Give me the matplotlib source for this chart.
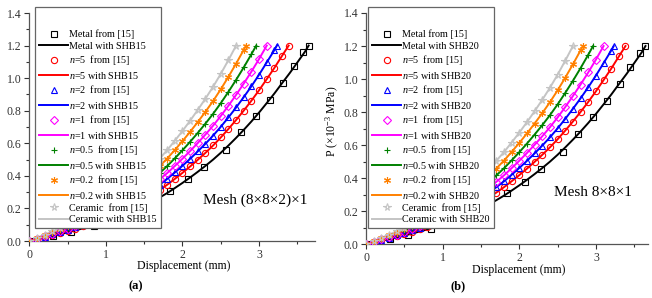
import matplotlib
matplotlib.use("Agg")
import matplotlib.pyplot as plt
from matplotlib.ticker import MultipleLocator, FormatStrFormatter

plt.rcParams['font.family'] = ['Liberation Serif', 'DejaVu Serif']
plt.rcParams['mathtext.fontset'] = 'custom'
plt.rcParams['mathtext.rm'] = 'Liberation Serif'
plt.rcParams['mathtext.it'] = 'Liberation Serif:italic'

# ---------------- data (displacement in mm, P in 1e-3 MPa) ----------------
metal_pts_d = [0, 0.31, 0.545, 0.85, 1.1, 1.35, 1.6, 1.84, 2.07, 2.28, 2.567, 2.77, 2.96, 3.146, 3.316, 3.45, 3.57, 3.647]
metal_pts_p = [0, 0.031, 0.057, 0.094, 0.131, 0.176, 0.24, 0.308, 0.38, 0.454, 0.56, 0.667, 0.77, 0.866, 0.969, 1.076, 1.158, 1.2]

metal_line_d = [0, 0.1, 0.2, 0.3, 0.4, 0.5, 0.6, 0.7, 0.8, 0.9, 1.0, 1.1, 1.2, 1.3, 1.4, 1.5, 1.6, 1.7, 1.8, 1.9,
                2.0, 2.1, 2.2, 2.3, 2.4, 2.5, 2.6, 2.7, 2.8, 2.9, 3.0, 3.1, 3.2, 3.3, 3.4, 3.5, 3.6, 3.647]
metal_line_p = [0, 0.0105, 0.021, 0.031, 0.0415, 0.0525, 0.065, 0.0775, 0.09, 0.1033, 0.12, 0.1367, 0.154, 0.174,
                0.194, 0.2167, 0.2405, 0.2667, 0.2944, 0.325, 0.3567, 0.39, 0.425, 0.4615, 0.5, 0.5417, 0.5864,
                0.6333, 0.6825, 0.7342, 0.7889, 0.847, 0.906, 0.969, 1.031, 1.0967, 1.163, 1.2]

n5_d = [0, 0.1, 0.2, 0.3, 0.4, 0.5, 0.6, 0.7, 0.8, 0.9, 1.0, 1.1, 1.2, 1.3, 1.4, 1.5, 1.6, 1.7, 1.8, 1.9,
        2.0, 2.1, 2.2, 2.3, 2.4, 2.5, 2.6, 2.7, 2.8, 2.9, 3.0, 3.1, 3.2, 3.3, 3.386]
n5_p = [0, 0.0123, 0.0246, 0.0364, 0.0487, 0.0616, 0.0763, 0.0910, 0.1056, 0.1212, 0.1408, 0.1604, 0.1807,
        0.2042, 0.2277, 0.2543, 0.2823, 0.3130, 0.3455, 0.3814, 0.4186, 0.4577, 0.4988, 0.5416, 0.5868,
        0.6357, 0.6882, 0.7432, 0.8010, 0.8617, 0.9259, 0.9940, 1.0633, 1.1372, 1.2]

n2_d = [0, 0.1, 0.2, 0.3, 0.4, 0.5, 0.6, 0.7, 0.8, 0.9, 1.0, 1.1, 1.2, 1.3, 1.4, 1.5, 1.6, 1.7, 1.8, 1.9,
        2.0, 2.1, 2.2, 2.3, 2.4, 2.5, 2.6, 2.7, 2.8, 2.9, 3.0, 3.1, 3.2, 3.233]
n2_p = [0, 0.0136, 0.0272, 0.0401, 0.0537, 0.0680, 0.0841, 0.1003, 0.1165, 0.1337, 0.1553, 0.1770, 0.1994,
        0.2252, 0.2511, 0.2805, 0.3113, 0.3452, 0.3811, 0.4207, 0.4618, 0.5049, 0.5502, 0.5974, 0.6473,
        0.7012, 0.7591, 0.8198, 0.8835, 0.9504, 1.0212, 1.0964, 1.1728, 1.2]

n1_d = [0, 0.1, 0.2, 0.3, 0.4, 0.5, 0.6, 0.7, 0.8, 0.9, 1.0, 1.1, 1.2, 1.3, 1.4, 1.5, 1.6, 1.7, 1.8, 1.9,
        2.0, 2.1, 2.2, 2.3, 2.4, 2.5, 2.6, 2.7, 2.8, 2.9, 3.0, 3.1]
n1_p = [0, 0.0149, 0.0298, 0.0439, 0.0588, 0.0744, 0.0921, 0.1098, 0.1275, 0.1464, 0.1700, 0.1937, 0.2182,
        0.2465, 0.2749, 0.3070, 0.3407, 0.3779, 0.4171, 0.4605, 0.5054, 0.5526, 0.6021, 0.6539, 0.7084,
        0.7675, 0.8308, 0.8973, 0.9670, 1.0402, 1.1177, 1.2]

n05_d = [0, 0.1, 0.2, 0.3, 0.4, 0.5, 0.6, 0.7, 0.8, 0.9, 1.0, 1.1, 1.2, 1.3, 1.4, 1.5, 1.6, 1.7, 1.8, 1.9,
         2.0, 2.1, 2.2, 2.3, 2.4, 2.5, 2.6, 2.7, 2.8, 2.9, 2.963]
n05_p = [0, 0.0164, 0.0328, 0.0484, 0.0648, 0.0820, 0.1016, 0.1211, 0.1406, 0.1614, 0.1875, 0.2136, 0.2406,
         0.2719, 0.3031, 0.3386, 0.3758, 0.4167, 0.4600, 0.5078, 0.5573, 0.6094, 0.6641, 0.7211, 0.7813,
         0.8464, 0.9163, 0.9895, 1.0664, 1.1472, 1.2]

n02_d = [0, 0.1, 0.2, 0.3, 0.4, 0.5, 0.6, 0.7, 0.8, 0.9, 1.0, 1.1, 1.2, 1.3, 1.4, 1.5, 1.6, 1.7, 1.8, 1.9,
         2.0, 2.1, 2.2, 2.3, 2.4, 2.5, 2.6, 2.7, 2.8, 2.83]
n02_p = [0, 0.0181, 0.0361, 0.0533, 0.0714, 0.0903, 0.1118, 0.1333, 0.1548, 0.1777, 0.2064, 0.2351, 0.2649,
         0.2993, 0.3337, 0.3727, 0.4137, 0.4587, 0.5064, 0.5590, 0.6135, 0.6708, 0.7310, 0.7938, 0.8600,
         0.9317, 1.0086, 1.0893, 1.1739, 1.2]

cer_d = [0, 0.1, 0.2, 0.3, 0.4, 0.5, 0.6, 0.7, 0.8, 0.9, 1.0, 1.1, 1.2, 1.3, 1.4, 1.5, 1.6, 1.7, 1.8, 1.9,
         2.0, 2.1, 2.2, 2.3, 2.4, 2.5, 2.6, 2.7]
cer_p = [0, 0.0199, 0.0398, 0.0587, 0.0786, 0.0995, 0.1232, 0.1469, 0.1706, 0.1958, 0.2274, 0.2590, 0.2918,
         0.3297, 0.3676, 0.4106, 0.4557, 0.5054, 0.5579, 0.6159, 0.6759, 0.7391, 0.8054, 0.8745, 0.9475,
         1.0265, 1.1112, 1.2]

series_names = ['Metal', '$n$=5 ', '$n$=2 ', '$n$=1 ', '$n$=0.5 ', '$n$=0.2 ', 'Ceramic ']
panel_elements = ['SHB15', 'SHB20']
panel_titles = ['(a)', '(b)']
mesh_labels = ['Mesh (8×8×2)×1', 'Mesh 8×8×1']

colors = ['black', '#ff0000', '#0000ff', '#ff00ff', '#008000', '#ff8000', '#c4c4c4']
markers = ['s', 'o', '^', 'D', '+', (6, 2, 0), '*']
msizes = [4, 4.5, 4.5, 4, 5, 5, 5.5]

fgm = [(n5_d, n5_p), (n2_d, n2_p), (n1_d, n1_p), (n05_d, n05_p), (n02_d, n02_p), (cer_d, cer_p)]

fig = plt.figure(figsize=(6.52, 2.98), dpi=100)
ax_rects = [(29.3 / 652, 57 / 298, 285.7 / 652, 228 / 298),
            (366 / 652, 53.7 / 298, 282 / 652, 231.3 / 298)]
xmaxs = [3.73, 3.68]
legend_anchor = [(35 / 652, 1 - 7 / 298), (368 / 652, 1 - 7 / 298)]
mesh_pos = [(255 / 652, 1 - 200 / 298), (593 / 652, 1 - 192 / 298)]
title_pos = [(136 / 652, 1 - 286 / 298), (458 / 652, 1 - 286 / 298)]

for k in range(2):
    ax = fig.add_axes(ax_rects[k])
    handles = []
    labels = []
    all_sets = [((metal_pts_d, metal_pts_p), (metal_line_d, metal_line_p))] + [((d, p), (d, p)) for d, p in fgm]
    for i, ((md, mp), (ld, lp)) in enumerate(all_sets):
        hollow = markers[i] not in ('+', (6, 2, 0))
        mk, = ax.plot(md, mp, linestyle='none', marker=markers[i], ms=msizes[i],
                      mfc='none' if hollow else colors[i], mec=colors[i], mew=0.8, zorder=3)
        ln, = ax.plot(ld, lp, color=colors[i], lw=1.4, zorder=2)
        handles += [mk, ln]
        labels += [series_names[i] + ' from [15]' if i > 0 else 'Metal from [15]',
                   series_names[i].strip() + ' with ' + panel_elements[k]]
    ax.set_xlim(0, xmaxs[k])
    ax.set_ylim(0, 1.4)
    ax.spines['top'].set_visible(False)
    ax.spines['right'].set_visible(False)
    for s in ('left', 'bottom'):
        ax.spines[s].set_color('#555555')
        ax.spines[s].set_linewidth(0.9)
    ax.xaxis.set_major_locator(MultipleLocator(1))
    ax.xaxis.set_minor_locator(MultipleLocator(0.5))
    ax.yaxis.set_major_locator(MultipleLocator(0.2))
    ax.yaxis.set_minor_locator(MultipleLocator(0.1))
    ax.yaxis.set_major_formatter(FormatStrFormatter('%.1f'))
    ax.tick_params(which='both', direction='out', labelsize=8.5, colors='#333333', width=0.8)
    ax.tick_params(which='major', length=3.5, pad=2)
    ax.tick_params(which='minor', length=2)
    ax.set_xlabel('Displacement (mm)', fontsize=8.5)
    ax.xaxis.set_label_coords(0.54, -0.085)
    ax.set_ylabel('P (×10$^{-3}$ MPa)', fontsize=8.5)
    ax.yaxis.set_label_coords(-0.087, 0.53)
    leg = ax.legend(handles, labels, loc='upper left', bbox_to_anchor=legend_anchor[k],
                    bbox_transform=fig.transFigure, borderaxespad=0, fontsize=7.3,
                    handlelength=2.9, handletextpad=0.1, labelspacing=0.245, borderpad=0.4,
                    title=' ', title_fontsize=12, fancybox=False, framealpha=1,
                    edgecolor='#666666')
    leg.get_frame().set_linewidth(0.9)
    leg.set_zorder(10)
    fig.text(mesh_pos[k][0], mesh_pos[k][1], mesh_labels[k], fontsize=11, ha='center', va='center')
    fig.text(title_pos[k][0], title_pos[k][1], panel_titles[k], fontsize=9, fontweight='bold',
             ha='center', va='center')

fig.savefig('out.png', dpi=100)
